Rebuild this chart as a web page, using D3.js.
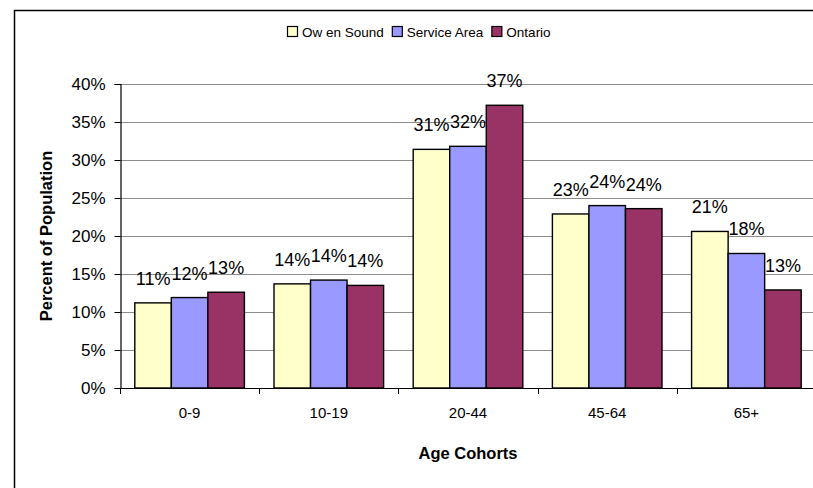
<!DOCTYPE html>
<html>
<head>
<meta charset="utf-8">
<script src="https://cdn.jsdelivr.net/npm/d3@7/dist/d3.min.js"></script>
<style>
  html, body { margin: 0; padding: 0; background: #fff; }
  svg { display: block; font-family: Arial, "Liberation Sans", sans-serif; }
</style>
</head>
<body>
<svg id="chart" width="813" height="488"></svg>
<script>
// Age cohorts and the share of population in each, by area
const categories = ["0-9", "10-19", "20-44", "45-64", "65+"];
const seriesNames = ["Ow en Sound", "Service Area", "Ontario"];
const owenSound   = [0.112, 0.137, 0.314, 0.229, 0.206];
const serviceArea = [0.119, 0.142, 0.318, 0.240, 0.177];
const ontario     = [0.126, 0.135, 0.372, 0.236, 0.129];
const seriesColors = ["#FFFFCC", "#9999FF", "#993366"];
const yTicks = [0, 0.05, 0.10, 0.15, 0.20, 0.25, 0.30, 0.35, 0.40];

const seriesValues = [owenSound, serviceArea, ontario];

const svg = d3.select("#chart");
const W = 813, H = 488;
const plot = { left: 120, right: 816, top: 84, bottom: 388 };

// outer chart frame (runs off the right and bottom edges)
svg.append("rect")
  .attr("x", 14.5).attr("y", 10.5)
  .attr("width", W + 20).attr("height", H + 20)
  .attr("fill", "#fff").attr("stroke", "#000").attr("stroke-width", 1.5);

const x = d3.scaleBand().domain(categories).range([plot.left, plot.right]).padding(0);
const xs = d3.scaleBand().domain(seriesNames).range([0, x.bandwidth()])
  .paddingInner(0).paddingOuter(0.405);
const y = d3.scaleLinear().domain([0, 0.4]).range([plot.bottom, plot.top]);

// horizontal gridlines
svg.append("g")
  .selectAll("line")
  .data(yTicks.filter(d => d > 0))
  .join("line")
  .attr("x1", plot.left).attr("x2", W)
  .attr("y1", d => Math.round(y(d)) + 0.5).attr("y2", d => Math.round(y(d)) + 0.5)
  .attr("stroke", "#8c8c8c").attr("stroke-width", 1);

// bars
const rows = categories.map((c, i) => ({
  cat: c,
  vals: seriesNames.map((s, j) => ({ s, j, v: seriesValues[j][i] }))
}));

const groups = svg.append("g").selectAll("g")
  .data(rows).join("g")
  .attr("transform", d => `translate(${x(d.cat)},0)`);

groups.selectAll("rect")
  .data(d => d.vals).join("rect")
  .attr("x", d => xs(d.s))
  .attr("y", d => y(d.v))
  .attr("width", xs.bandwidth())
  .attr("height", d => y(0) - y(d.v))
  .attr("fill", d => seriesColors[d.j])
  .attr("stroke", "#000").attr("stroke-width", 1.4);

// value labels above bars
groups.selectAll("text")
  .data(d => d.vals).join("text")
  .attr("x", d => xs(d.s) + xs.bandwidth() / 2)
  .attr("y", d => y(d.v) - 18)
  .attr("text-anchor", "middle")
  .attr("font-size", 18)
  .attr("fill", "#000")
  .text(d => d3.format(".0%")(d.v));

// y axis
const yAxis = svg.append("g")
  .attr("transform", `translate(${plot.left + 0.5},0)`)
  .call(d3.axisLeft(y).tickValues(yTicks).tickFormat(d3.format(".0%"))
    .tickSize(6).tickPadding(9));
yAxis.select(".domain").attr("stroke", "#000").attr("stroke-width", 1.2);
yAxis.selectAll(".tick line").attr("stroke", "#000");
yAxis.selectAll(".tick text")
  .attr("font-size", 17).attr("font-family", "Arial, 'Liberation Sans', sans-serif")
  .attr("fill", "#000");

// x axis: baseline, boundary ticks, centred category labels
const xAxis = svg.append("g");
xAxis.append("line")
  .attr("x1", plot.left).attr("x2", W)
  .attr("y1", plot.bottom + 0.5).attr("y2", plot.bottom + 0.5)
  .attr("stroke", "#000").attr("stroke-width", 1.2);
xAxis.selectAll("line.tick")
  .data(categories.map(c => x(c)).concat([plot.right]))
  .join("line").attr("class", "tick")
  .attr("x1", d => Math.round(d) + 0.5).attr("x2", d => Math.round(d) + 0.5)
  .attr("y1", plot.bottom).attr("y2", plot.bottom + 6)
  .attr("stroke", "#000");
xAxis.selectAll("text")
  .data(categories).join("text")
  .attr("x", d => x(d) + x.bandwidth() / 2)
  .attr("y", 418)
  .attr("text-anchor", "middle")
  .attr("font-size", 15)
  .attr("fill", "#000")
  .text(d => d);

// axis titles
svg.append("text")
  .attr("x", (plot.left + plot.right) / 2).attr("y", 459)
  .attr("text-anchor", "middle")
  .attr("font-size", 16.5).attr("font-weight", "bold")
  .text("Age Cohorts");

svg.append("text")
  .attr("transform", `translate(52,${(plot.top + plot.bottom) / 2}) rotate(-90)`)
  .attr("text-anchor", "middle")
  .attr("font-size", 16.5).attr("font-weight", "bold")
  .text("Percent of Population");

// legend
const legend = svg.append("g").attr("transform", "translate(287,32)");
let lx = 0;
seriesNames.forEach((name, j) => {
  const item = legend.append("g").attr("transform", `translate(${lx},0)`);
  item.append("rect")
    .attr("x", 0.5).attr("y", -5.5).attr("width", 10).attr("height", 10)
    .attr("fill", seriesColors[j]).attr("stroke", "#000").attr("stroke-width", 1.2);
  const t = item.append("text")
    .attr("x", 15).attr("y", 5)
    .attr("font-size", 13.5).attr("fill", "#000")
    .text(name);
  lx += 15 + t.node().getComputedTextLength() + 8;
});
</script>
</body>
</html>
